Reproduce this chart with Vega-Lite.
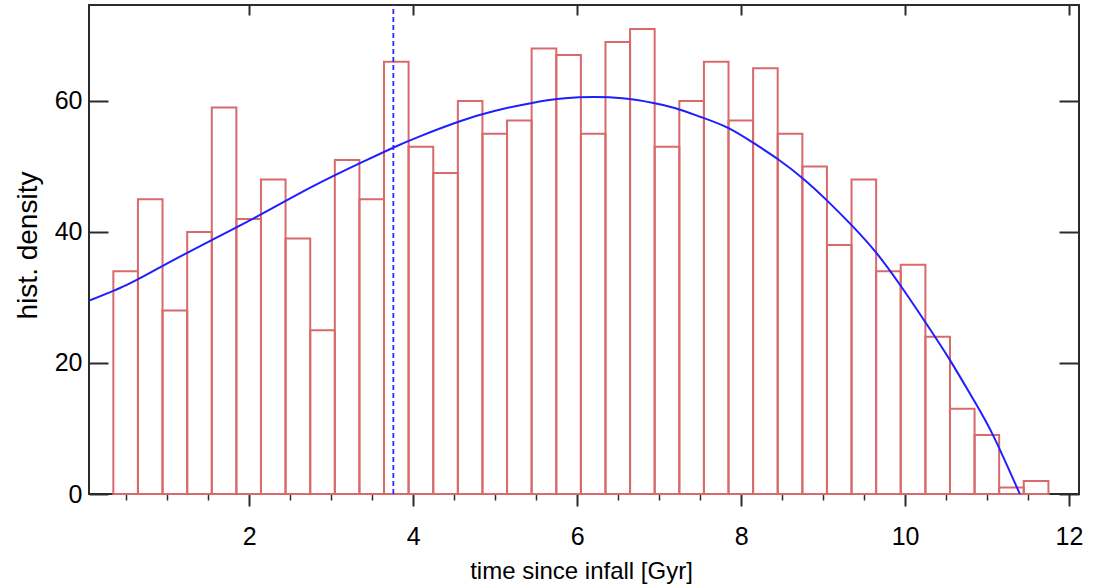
{
  "$schema": "https://vega.github.io/schema/vega-lite/v6.json",
  "width": 990,
  "height": 489,
  "autosize": "none",
  "padding": {"left": 89, "top": 5, "right": 21, "bottom": 94},
  "background": "white",
  "config": {
    "view": {"stroke": "#2b2b2b", "strokeWidth": 2},
    "font": "Liberation Sans",
    "axis": {
      "domain": false,
      "grid": false,
      "labelFont": "Liberation Sans",
      "titleFont": "Liberation Sans",
      "labelColor": "#000000",
      "titleColor": "#000000",
      "tickColor": "#2b2b2b",
      "tickWidth": 2,
      "titleFontWeight": "normal"
    }
  },
  "datasets": {
    "bins": [
      {"x0": 0.341, "x1": 0.641, "count": 34},
      {"x0": 0.641, "x1": 0.941, "count": 45},
      {"x0": 0.941, "x1": 1.242, "count": 28},
      {"x0": 1.242, "x1": 1.542, "count": 40},
      {"x0": 1.542, "x1": 1.842, "count": 59},
      {"x0": 1.842, "x1": 2.142, "count": 42},
      {"x0": 2.142, "x1": 2.442, "count": 48},
      {"x0": 2.442, "x1": 2.743, "count": 39},
      {"x0": 2.743, "x1": 3.043, "count": 25},
      {"x0": 3.043, "x1": 3.343, "count": 51},
      {"x0": 3.343, "x1": 3.643, "count": 45},
      {"x0": 3.643, "x1": 3.943, "count": 66},
      {"x0": 3.943, "x1": 4.244, "count": 53},
      {"x0": 4.244, "x1": 4.544, "count": 49},
      {"x0": 4.544, "x1": 4.844, "count": 60},
      {"x0": 4.844, "x1": 5.144, "count": 55},
      {"x0": 5.144, "x1": 5.444, "count": 57},
      {"x0": 5.444, "x1": 5.745, "count": 68},
      {"x0": 5.745, "x1": 6.045, "count": 67},
      {"x0": 6.045, "x1": 6.345, "count": 55},
      {"x0": 6.345, "x1": 6.645, "count": 69},
      {"x0": 6.645, "x1": 6.945, "count": 71},
      {"x0": 6.945, "x1": 7.246, "count": 53},
      {"x0": 7.246, "x1": 7.546, "count": 60},
      {"x0": 7.546, "x1": 7.846, "count": 66},
      {"x0": 7.846, "x1": 8.146, "count": 57},
      {"x0": 8.146, "x1": 8.446, "count": 65},
      {"x0": 8.446, "x1": 8.747, "count": 55},
      {"x0": 8.747, "x1": 9.047, "count": 50},
      {"x0": 9.047, "x1": 9.347, "count": 38},
      {"x0": 9.347, "x1": 9.647, "count": 48},
      {"x0": 9.647, "x1": 9.947, "count": 34},
      {"x0": 9.947, "x1": 10.248, "count": 35},
      {"x0": 10.248, "x1": 10.548, "count": 24},
      {"x0": 10.548, "x1": 10.848, "count": 13},
      {"x0": 10.848, "x1": 11.148, "count": 9},
      {"x0": 11.148, "x1": 11.448, "count": 1},
      {"x0": 11.448, "x1": 11.749, "count": 2}
    ],
    "fit": [
      {"t": 0.0, "v": 29.3},
      {"t": 0.5, "v": 31.9},
      {"t": 0.91, "v": 34.6},
      {"t": 1.5, "v": 38.5},
      {"t": 2.13, "v": 42.6},
      {"t": 2.75, "v": 46.8},
      {"t": 3.35, "v": 50.5},
      {"t": 3.76, "v": 52.9},
      {"t": 4.08, "v": 54.6},
      {"t": 4.57, "v": 56.9},
      {"t": 5.0, "v": 58.5},
      {"t": 5.45, "v": 59.7},
      {"t": 5.85, "v": 60.4},
      {"t": 6.2, "v": 60.6},
      {"t": 6.55, "v": 60.4},
      {"t": 6.93, "v": 59.7},
      {"t": 7.2, "v": 58.9},
      {"t": 7.5, "v": 57.6},
      {"t": 7.84, "v": 55.9},
      {"t": 8.15, "v": 53.6},
      {"t": 8.45, "v": 51.1},
      {"t": 8.76, "v": 48.1},
      {"t": 9.04, "v": 44.9},
      {"t": 9.35, "v": 41.0},
      {"t": 9.65, "v": 36.8},
      {"t": 9.94, "v": 31.9},
      {"t": 10.26, "v": 26.0},
      {"t": 10.55, "v": 20.4},
      {"t": 10.83, "v": 14.5},
      {"t": 11.08, "v": 8.8},
      {"t": 11.4, "v": 0.0}
    ],
    "marker": [{"t": 3.757}]
  },
  "layer": [
    {
      "data": {"name": "bins"},
      "mark": {"type": "rect", "fill": "#ffffff", "fillOpacity": 0, "stroke": "#d96a6c", "strokeWidth": 2},
      "encoding": {
        "x": {
          "field": "x0",
          "type": "quantitative",
          "scale": {"domain": [0.044, 12.122], "nice": false, "zero": false},
          "axis": {
            "orient": "bottom",
            "values": [2, 4, 6, 8, 10, 12],
            "tickSize": 12,
            "labelPadding": 18,
            "labelFontSize": 25,
            "title": "time since infall [Gyr]",
            "titleFontSize": 24,
            "titleBaseline": "alphabetic",
            "titleY": 84,
            "titleX": 492
          }
        },
        "x2": {"field": "x1"},
        "y": {
          "field": "count",
          "type": "quantitative",
          "scale": {"domain": [0, 74.65], "nice": false},
          "axis": {
            "orient": "left",
            "values": [0, 20, 40, 60],
            "ticks": false,
            "tickSize": 0,
            "labelPadding": 7,
            "labelFontSize": 25,
            "title": "hist. density",
            "titleFontSize": 28,
            "titleBaseline": "alphabetic",
            "titleX": -53,
            "titleY": 240
          }
        },
        "y2": {"datum": 0}
      }
    },
    {
      "data": {"name": "fit"},
      "mark": {"type": "line", "color": "#1f1fff", "strokeWidth": 2, "interpolate": "natural", "clip": true},
      "encoding": {
        "x": {
          "field": "t",
          "type": "quantitative",
          "axis": {"orient": "top", "values": [2, 4, 6, 8, 10, 12], "tickSize": -10, "labels": false, "title": null}
        },
        "y": {
          "field": "v",
          "type": "quantitative",
          "axis": {"orient": "right", "values": [0, 20, 40, 60], "tickSize": -20, "labels": false, "title": null}
        }
      }
    },
    {
      "data": {"name": "marker"},
      "mark": {"type": "rule", "color": "#2a2aff", "strokeWidth": 1.8, "strokeDash": [5, 3]},
      "encoding": {
        "x": {
          "field": "t",
          "type": "quantitative",
          "axis": {
            "orient": "bottom",
            "values": [0.5, 1, 1.5, 2.5, 3, 3.5, 4.5, 5, 5.5, 6.5, 7, 7.5, 8.5, 9, 9.5, 10.5, 11, 11.5],
            "tickSize": 6,
            "tickWidth": 1.5,
            "labels": false,
            "title": null
          }
        },
        "y": {
          "datum": 0,
          "type": "quantitative",
          "axis": {"orient": "left", "values": [0, 20, 40, 60], "tickSize": -19, "labels": false, "title": null}
        },
        "y2": {"datum": 74.65}
      }
    }
  ],
  "resolve": {"axis": {"x": "independent", "y": "independent"}}
}
